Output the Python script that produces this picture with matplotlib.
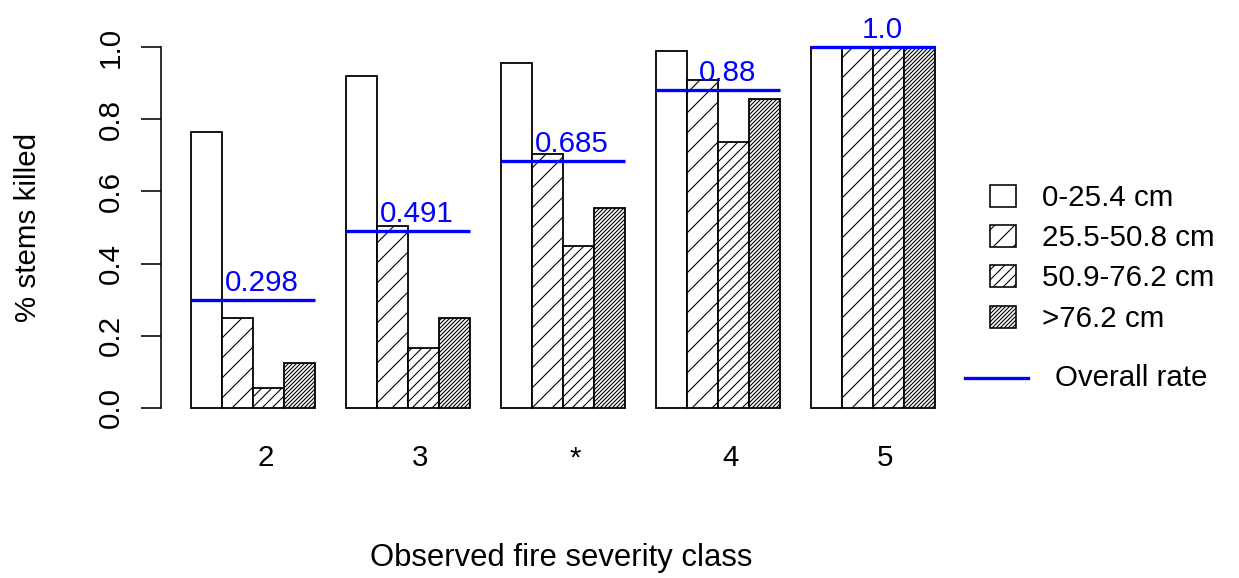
import matplotlib
matplotlib.use("Agg")
import matplotlib.pyplot as plt
from matplotlib.patches import Rectangle
from matplotlib.lines import Line2D

# ---- data -------------------------------------------------------------
classes = ["2", "3", "*", "4", "5"]
size_classes = ["0-25.4 cm", "25.5-50.8 cm", "50.9-76.2 cm", ">76.2 cm"]
killed_0_25 = [0.765, 0.920, 0.957, 0.988, 1.0]
killed_25_51 = [0.250, 0.504, 0.705, 0.908, 1.0]
killed_51_76 = [0.054, 0.165, 0.450, 0.738, 1.0]
killed_76_up = [0.124, 0.250, 0.553, 0.855, 1.0]
overall_rate = [0.298, 0.491, 0.685, 0.88, 1.0]
y_ticks = [0.0, 0.2, 0.4, 0.6, 0.8, 1.0]

series = [killed_0_25, killed_25_51, killed_51_76, killed_76_up]
hatches = ["", "/", "//", "/////"]

# ---- figure --------------------------------------------------------------
W, H = 1239, 578
DPI = 60  # hatch spacing scales with dpi


def pt(px):
    """Convert a size in pixels to points at the figure dpi."""
    return px * 72.0 / DPI


plt.rcParams["font.family"] = ["Liberation Sans", "DejaVu Sans"]
plt.rcParams["hatch.linewidth"] = pt(1.1)
plt.rcParams["hatch.color"] = "black"
FS = pt(29.5)

fig = plt.figure(figsize=(W / DPI, H / DPI), dpi=DPI)
fig.patch.set_facecolor("white")

# plot region in pixels
left_px, right_px = 161.2, 964.8
top_px, bottom_px = 32.6, 422.4
ax = fig.add_axes([left_px / W, 1 - bottom_px / H,
                   (right_px - left_px) / W, (bottom_px - top_px) / H])

n_groups = len(classes)
n_bars = len(series)
group_step = n_bars + 1  # one bar-width gap between groups

for j, (vals, hatch) in enumerate(zip(series, hatches)):
    lefts = [1 + group_step * k + j for k in range(n_groups)]
    ax.bar(lefts, vals, width=1.0, align="edge", facecolor="white",
           edgecolor="black", linewidth=pt(1.8), hatch=hatch, zorder=2)

blue = "#0000FF"
for k, rate in enumerate(overall_rate):
    g0 = 1 + group_step * k
    g1 = g0 + n_bars
    ax.hlines(rate, g0, g1, color=blue, linewidth=pt(3.3), zorder=3)
    ax.annotate(str(rate), xy=(g0 + n_bars / 2 + 0.3, rate),
                xytext=(0, pt(9)), textcoords="offset points",
                ha="center", va="baseline", color=blue, fontsize=FS,
                zorder=4)

ax.set_xlim(0.04, 25.96)
ax.set_ylim(-0.04, 1.04)

for s in ["top", "right", "bottom"]:
    ax.spines[s].set_visible(False)
ax.spines["left"].set_bounds(0, 1)
ax.spines["left"].set_linewidth(pt(1.6))

ax.set_yticks(y_ticks)
ax.set_yticklabels([f"{v:.1f}" for v in y_ticks], rotation=90,
                   va="center", fontsize=FS)
ax.tick_params(axis="y", length=pt(20), width=pt(1.6), pad=pt(16))

centers = [1 + group_step * k + n_bars / 2 + 0.4 for k in range(n_groups)]
ax.set_xticks(centers)
ax.set_xticklabels(classes, fontsize=FS)
ax.tick_params(axis="x", length=0, pad=pt(22))

fig.text(28 / W, 1 - 227.5 / H, "% stems killed", rotation=90,
         ha="center", va="center", fontsize=FS)
fig.text(561 / W, 1 - 558 / H, "Observed fire severity class",
         ha="center", va="center", fontsize=pt(31))

# ---- legend in pixel coordinates ---------------------------------------
lax = fig.add_axes([0, 0, 1, 1], zorder=5)
lax.set_xlim(0, W)
lax.set_ylim(H, 0)
lax.axis("off")
lax.patch.set_alpha(0)

row_y = [196, 236, 276, 317]
for name, hatch, y in zip(size_classes, hatches, row_y):
    lax.add_patch(Rectangle((990, y - 11), 26, 22, facecolor="white",
                            edgecolor="black", linewidth=pt(1.6),
                            hatch=hatch))
    lax.text(1042, y + 2, name, ha="left", va="center", fontsize=FS)

lax.add_line(Line2D([965, 1028], [378, 378], color=blue,
                    linewidth=pt(3.3)))
lax.text(1055, 378, "Overall rate", ha="left", va="center", fontsize=FS)

fig.savefig("out.png", dpi=DPI, facecolor="white")
